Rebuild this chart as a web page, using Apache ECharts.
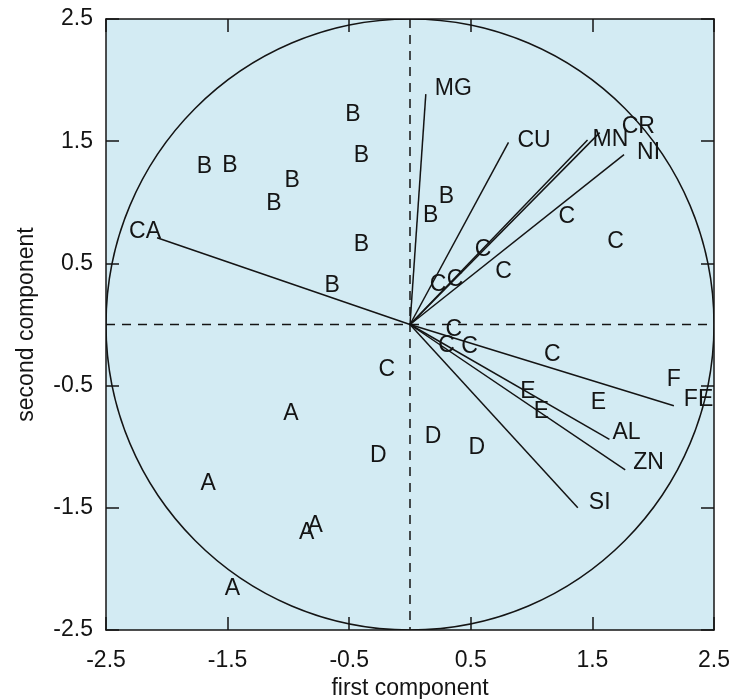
<!DOCTYPE html>
<html>
<head>
<meta charset="utf-8">
<script src="https://cdn.jsdelivr.net/npm/echarts@6/dist/echarts.min.js"></script>
<style>
  html, body { margin: 0; padding: 0; background: #fff; }
  #chart { width: 733px; height: 699px; }
</style>
</head>
<body>
<div id="chart"></div>
<script>
(function () {
  'use strict';

  // Axis range and tick step
  var axisMin = -2.5;
  var axisMax = 2.5;
  var tickStep = 1;
  var circleRadius = 2.5;

  // Observations: group letter and [first, second] component scores
  var groupA = [[-0.98, -0.73], [-1.66, -1.30], [-0.85, -1.70], [-0.78, -1.65], [-1.46, -2.16]];
  var groupB = [[-0.47, 1.72], [-1.69, 1.29], [-1.48, 1.30], [-0.97, 1.18], [-1.12, 0.99],
                [-0.40, 1.38], [-0.40, 0.65], [-0.64, 0.32], [0.30, 1.05], [0.17, 0.89]];
  var groupC = [[1.29, 0.88], [1.69, 0.68], [0.60, 0.61], [0.77, 0.43], [0.23, 0.33],
                [0.37, 0.37], [0.36, -0.04], [0.30, -0.17], [0.49, -0.18], [1.17, -0.25],
                [-0.19, -0.37]];
  var groupD = [[0.19, -0.92], [0.55, -1.01], [-0.26, -1.07]];
  var groupE = [[0.97, -0.55], [1.08, -0.71], [1.55, -0.64]];
  var groupF = [[2.17, -0.45]];

  // Variable loadings (arrow ends)
  var varNames = ['CA', 'MG', 'CU', 'MN', 'CR', 'NI', 'FE', 'AL', 'ZN', 'SI'];
  var varX = [-2.08, 0.13, 0.81, 1.46, 1.56, 1.76, 2.17, 1.64, 1.77, 1.38];
  var varY = [0.71, 1.885, 1.49, 1.51, 1.57, 1.39, -0.665, -0.94, -1.19, -1.50];

  // Label placement next to each arrow end (pixels)
  var labelOffset = {
    CA: [4, -6], MG: [9, -5], CU: [9, -2], MN: [5, 0], CR: [22, -6],
    NI: [13, -2], FE: [10, -6], AL: [3, -7], ZN: [8, -7], SI: [11, -5]
  };

  var FONT = '"Liberation Sans", Arial, Helvetica, sans-serif';
  var INK = '#141414';
  var FS = 23;

  var groups = { A: groupA, B: groupB, C: groupC, D: groupD, E: groupE, F: groupF };
  var pointData = [];
  Object.keys(groups).forEach(function (g) {
    groups[g].forEach(function (p) { pointData.push([p[0], p[1], g]); });
  });

  var vectorData = varNames.map(function (n, i) { return [varX[i], varY[i], n]; });

  var chart = echarts.init(document.getElementById('chart'));

  function valueAxis(pos, showLabels, margin) {
    return {
      type: 'value',
      position: pos,
      min: axisMin,
      max: axisMax,
      interval: tickStep,
      axisLine: { show: true, onZero: false, lineStyle: { color: INK, width: 1.5 } },
      axisTick: { show: true, inside: true, length: 13, lineStyle: { color: INK, width: 1.5 } },
      axisLabel: {
        show: showLabels, color: INK, fontSize: FS, fontFamily: FONT, margin: margin || 14,
        formatter: function (v) { return v.toFixed(1); }
      },
      splitLine: { show: false }
    };
  }

  var xBottom = valueAxis('bottom', true, 19);
  xBottom.name = 'first component';
  xBottom.nameLocation = 'middle';
  xBottom.nameGap = 46;
  xBottom.nameTextStyle = { color: INK, fontSize: FS, fontFamily: FONT };
  var yLeft = valueAxis('left', true, 13);
  yLeft.name = 'second component';
  yLeft.nameLocation = 'middle';
  yLeft.nameGap = 68;
  yLeft.nameTextStyle = { color: INK, fontSize: FS, fontFamily: FONT };

  var option = {
    animation: false,
    backgroundColor: '#fff',
    grid: {
      left: 106, top: 19, width: 608, height: 611,
      containLabel: false,
      outerBoundsMode: 'none',
      show: true, backgroundColor: '#d3ebf3', borderWidth: 0
    },
    xAxis: [xBottom, valueAxis('top', false)],
    yAxis: [yLeft, valueAxis('right', false)],
    series: [
      {
        // reference circle and the dashed zero lines
        type: 'custom',
        coordinateSystem: 'cartesian2d',
        clip: true,
        silent: true,
        data: [[0, 0, circleRadius]],
        renderItem: function (params, api) {
          var c = api.coord([0, 0]);
          var sz = api.size([api.value(2), api.value(2)]);
          var cs = params.coordSys;
          return {
            type: 'group',
            children: [
              {
                type: 'ellipse',
                shape: { cx: c[0], cy: c[1], rx: sz[0], ry: sz[1] },
                style: { fill: null, stroke: INK, lineWidth: 1.5 }
              },
              {
                type: 'line',
                shape: { x1: cs.x, y1: c[1], x2: cs.x + cs.width, y2: c[1] },
                style: { stroke: INK, lineWidth: 1.5, lineDash: [9, 7] }
              },
              {
                type: 'line',
                shape: { x1: c[0], y1: cs.y, x2: c[0], y2: cs.y + cs.height },
                style: { stroke: INK, lineWidth: 1.5, lineDash: [9, 7] }
              }
            ]
          };
        }
      },
      {
        // loading arrows with their variable names
        type: 'custom',
        coordinateSystem: 'cartesian2d',
        silent: true,
        data: vectorData,
        renderItem: function (params, api) {
          var o = api.coord([0, 0]);
          var e = api.coord([api.value(0), api.value(1)]);
          var name = vectorData[params.dataIndex][2];
          var off = labelOffset[name] || [8, 0];
          var leftSide = api.value(0) < 0;
          return {
            type: 'group',
            children: [
              {
                type: 'line',
                shape: { x1: o[0], y1: o[1], x2: e[0], y2: e[1] },
                style: { stroke: INK, lineWidth: 1.5 }
              },
              {
                type: 'text',
                x: e[0] + off[0],
                y: e[1] + off[1],
                style: {
                  text: name, fill: INK, font: FS + 'px ' + FONT,
                  align: leftSide ? 'right' : 'left', verticalAlign: 'middle'
                }
              }
            ]
          };
        }
      },
      {
        // observations drawn as their group letter
        type: 'custom',
        coordinateSystem: 'cartesian2d',
        silent: true,
        data: pointData,
        renderItem: function (params, api) {
          var p = api.coord([api.value(0), api.value(1)]);
          return {
            type: 'text',
            x: p[0],
            y: p[1],
            style: {
              text: pointData[params.dataIndex][2], fill: INK, font: FS + 'px ' + FONT,
              align: 'center', verticalAlign: 'middle'
            }
          };
        }
      }
    ]
  };

  chart.setOption(option);
})();
</script>
</body>
</html>
